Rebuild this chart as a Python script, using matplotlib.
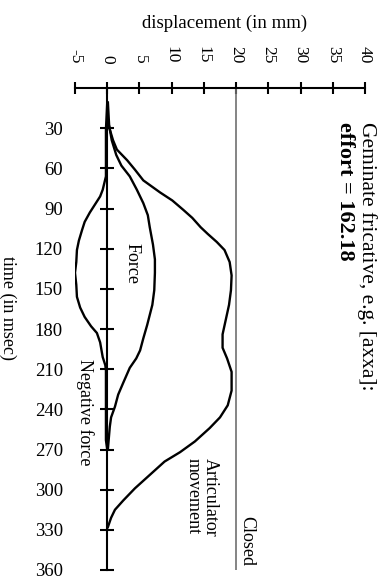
import numpy as np
import matplotlib
matplotlib.use('Agg')
import matplotlib.pyplot as plt

plt.rcParams['font.family'] = ['Liberation Serif', 'DejaVu Serif']
plt.rcParams['axes.unicode_minus'] = False

# articulator movement (displacement in mm vs time in msec)
art_t = [11, 24, 31, 39, 46, 54, 61, 69, 78, 84, 91, 97, 104, 109, 115, 121, 130, 140,
         151, 162, 173, 184, 194, 202, 212, 226, 237, 246, 254, 264, 272, 279, 289, 299,
         308, 315, 321, 328]
art_d = [0.1, 0.1, 0.4, 0.9, 1.5, 3.1, 4.3, 5.6, 8.2, 10.1, 11.8, 13.2, 14.5, 15.6, 17.0,
         18.2, 19.0, 19.3, 19.2, 18.9, 18.4, 17.9, 17.9, 18.6, 19.3, 19.3, 18.7, 17.5, 15.9,
         13.6, 11.3, 8.9, 6.6, 4.3, 2.5, 1.2, 0.6, 0.1]

# force
force_t = [11, 28, 39, 50, 58, 66, 76, 86, 95, 104, 117, 128, 138, 151, 162, 177, 187,
           196, 202, 209, 220, 229, 238, 246, 253, 270]
force_d = [0.1, 0.3, 0.7, 1.4, 2.2, 3.5, 4.6, 5.6, 6.3, 6.6, 7.1, 7.4, 7.4, 7.3, 7.0, 6.2,
           5.6, 5.1, 4.5, 3.5, 2.5, 1.7, 1.2, 0.6, 0.4, 0.1]

# negative force
neg_t = [11, 31, 54, 66, 76, 81, 87, 93, 100, 106, 114, 121, 130, 138, 147, 156, 164, 171,
         178, 183, 190, 201, 207, 211, 240, 263, 270]
neg_d = [0.0, -0.2, -0.2, -0.2, -0.7, -1.1, -1.9, -2.7, -3.5, -3.9, -4.4, -4.7, -4.8, -5.0,
         -4.8, -4.7, -4.2, -3.5, -2.5, -1.6, -1.1, -0.7, -0.3, -0.2, -0.2, -0.2, 0.0]

x_ticks = [-5, 0, 5, 10, 15, 20, 25, 30, 35, 40]
y_ticks = [30, 60, 90, 120, 150, 180, 210, 240, 270, 300, 330, 360]
closed_level = 20

W, H = 387, 576
fig = plt.figure(figsize=(W / 100, H / 100), dpi=100)
ax = fig.add_axes([75 / W, (H - 570) / H, 290 / W, 482 / H])
ax.set_xlim(-5, 40)
ax.set_ylim(360, 0)

ax.plot(art_d, art_t, color='black', lw=1.7, solid_joinstyle='round')
ax.plot(force_d, force_t, color='black', lw=1.7, solid_joinstyle='round')
ax.plot(neg_d, neg_t, color='black', lw=1.7, solid_joinstyle='round')
ax.axvline(closed_level, color='#707070', lw=1.2)

for s in ['right', 'bottom']:
    ax.spines[s].set_visible(False)
ax.spines['left'].set_position(('data', 0))
ax.spines['left'].set_linewidth(1.5)
ax.spines['top'].set_linewidth(1.5)

ax.xaxis.tick_top()
ax.set_xticks(x_ticks)
ax.set_xticklabels([str(v) for v in x_ticks])
ax.tick_params(axis='x', direction='inout', length=9, width=1.5, pad=13,
               labelsize=12.5, labelrotation=-90)
ax.set_yticks(y_ticks)
ax.set_yticklabels([str(v) for v in y_ticks])
ax.tick_params(axis='y', direction='inout', length=10, width=1.5, pad=27,
               labelsize=13.5)

fig.text(225 / W, 1 - 23 / H, 'displacement (in mm)', ha='center', va='center',
         fontsize=13.5)
fig.text(8 / W, 1 - 308 / H, 'time (in msec)', ha='center', va='center',
         rotation=-90, fontsize=13)
fig.text(367 / W, 1 - 122 / H, 'Geminate fricative, e.g. [axxa]:', ha='center',
         va='top', rotation=-90, fontsize=15.5)
fig.text(345 / W, 1 - 122 / H, 'effort = 162.18', ha='center', va='top',
         rotation=-90, fontsize=16, fontweight='bold')

ax.text(3.9, 131, 'Force', ha='center', va='center', rotation=-90, fontsize=13)
ax.text(-3.4, 242, 'Negative force', ha='center', va='center', rotation=-90,
        fontsize=13)
ax.text(14.7, 276, 'Articulator\nmovement', ha='center', va='top', rotation=-90,
        fontsize=13, multialignment='left', linespacing=1.0)
ax.text(21.7, 338, 'Closed', ha='center', va='center', rotation=-90, fontsize=13)

fig.savefig('out.png', dpi=100)
